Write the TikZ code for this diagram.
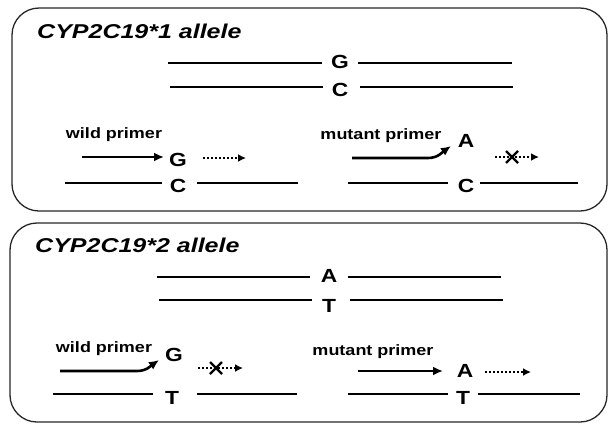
\documentclass[tikz,border=0pt]{standalone}
\usepackage{fontspec}
\newfontfamily\lblfont{Liberation Sans}[FakeStretch=1.2]
\newfontfamily\ttlfont{Liberation Sans}[FakeStretch=1.25]
\usetikzlibrary{arrows.meta}
\begin{document}
\begin{tikzpicture}[x=1pt,y=-1pt,
  panel/.style={draw=black!85,line width=1.3pt,rounded corners=27pt},
  ttl/.style={anchor=base west,inner sep=0pt,font=\ttlfont\bfseries\itshape\fontsize{20}{24}\selectfont},
  base/.style={inner sep=0pt,font=\lblfont\bfseries\fontsize{19}{22}\selectfont},
  lbl/.style={inner sep=0pt,font=\lblfont\bfseries\fontsize{15}{18}\selectfont},
  strand/.style={line width=1.9pt},
  primer/.style={line width=2.6pt,-{Latex[length=10pt,width=9pt]}},
  ext/.style={line width=2.2pt,dash pattern=on 2pt off 2pt,-{Latex[length=8pt,width=8pt]}},
  xmark/.style={line width=2.2pt}
]
\useasboundingbox (0,0) rectangle (609,424);
% panels
\draw[panel] (12,8) rectangle (607,211);
\draw[panel] (10,223) rectangle (607,422);

% ---------- top panel ----------
\node[ttl] (t1) at (37,38) {CYP2C19*1 allele};
\node[base] (G1) at (340,62) {G};
\node[base] (C1) at (340,90) {C};
\draw[strand] (168,63) coordinate (a1) -- (322,63) coordinate (a2);
\draw[strand] (358,63) coordinate (a3) -- (512,63) coordinate (a4);
\draw[strand] (170,87) coordinate (b1) -- (323,87) coordinate (b2);
\draw[strand] (360,87) coordinate (b3) -- (513,87) coordinate (b4);

\node[lbl] (wl1) at (114,135) {wild primer};
\coordinate (wp1s) at (82,157);
\coordinate (wp1e) at (164,157);
\draw[primer] (wp1s) -- (wp1e);
\node[base] (G2) at (178,160) {G};
\coordinate (e1s) at (203,158);
\coordinate (e1e) at (246,158);
\draw[ext] (e1s) -- (e1e);
\node[base] (C2) at (178,186) {C};
\draw[strand] (65,183) coordinate (c1) -- (162,183) coordinate (c2);
\draw[strand] (197,183) coordinate (c3) -- (298,183) coordinate (c4);

\node[lbl] (ml1) at (381,136) {mutant primer};
\coordinate (mp1s) at (352,158);
\coordinate (mp1e) at (451,146);
\draw[primer] (mp1s) -- (428,158) to[out=0,in=215] (mp1e);
\node[base] (A1) at (466,141) {A};
\coordinate (x1s) at (495,157);
\coordinate (x1e) at (539,157);
\draw[ext] (x1s) -- (x1e);
\draw[xmark] (506,151) -- (518,163) (506,163) -- (518,151);
\node[base] (C3) at (466,186) {C};
\draw[strand] (348,183) coordinate (d1) -- (448,183) coordinate (d2);
\draw[strand] (480,183) coordinate (d3) -- (578,183) coordinate (d4);

% ---------- bottom panel ----------
\node[ttl] (t2) at (35,252) {CYP2C19*2 allele};
\node[base] (A2) at (329,276) {A};
\node[base] (T1) at (329,306) {T};
\draw[strand] (157,277) coordinate (f1) -- (310,277) coordinate (f2);
\draw[strand] (348,277) coordinate (f3) -- (501,277) coordinate (f4);
\draw[strand] (159,300) coordinate (g1) -- (312,300) coordinate (g2);
\draw[strand] (350,300) coordinate (g3) -- (503,300) coordinate (g4);

\node[lbl] (wl2) at (104,349) {wild primer};
\coordinate (wp2s) at (60,371);
\coordinate (wp2e) at (159,360);
\draw[primer] (wp2s) -- (137,371) to[out=0,in=215] (wp2e);
\node[base] (G3) at (174,355) {G};
\coordinate (x2s) at (198,368);
\coordinate (x2e) at (243,368);
\draw[ext] (x2s) -- (x2e);
\draw[xmark] (210,362) -- (222,374) (210,374) -- (222,362);
\node[base] (T2) at (172,398) {T};
\draw[strand] (53,394) coordinate (h1) -- (153,394) coordinate (h2);
\draw[strand] (197,394) coordinate (h3) -- (297,394) coordinate (h4);

\node[lbl] (ml2) at (373,352) {mutant primer};
\coordinate (mp2s) at (358,371);
\coordinate (mp2e) at (443,371);
\draw[primer] (mp2s) -- (mp2e);
\node[base] (A3) at (465,371) {A};
\coordinate (e2s) at (485,372);
\coordinate (e2e) at (531,372);
\draw[ext] (e2s) -- (e2e);
\node[base] (T3) at (463,398) {T};
\draw[strand] (348,394) coordinate (k1) -- (448,394) coordinate (k2);
\draw[strand] (478,394) coordinate (k3) -- (580,394) coordinate (k4);
\end{tikzpicture}
\end{document}
